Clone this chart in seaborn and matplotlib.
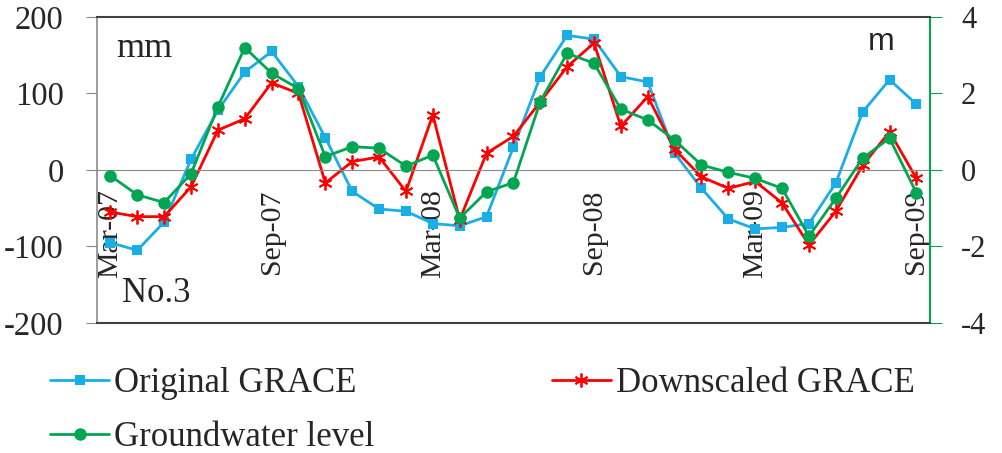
import numpy as np
import pandas as pd
import matplotlib
matplotlib.use("Agg")
import matplotlib.pyplot as plt
import seaborn as sns

# --- data (monthly, Mar-07 .. Sep-09) ---
months = ["Mar-07", "Apr-07", "May-07", "Jun-07", "Jul-07", "Aug-07", "Sep-07", "Oct-07",
          "Nov-07", "Dec-07", "Jan-08", "Feb-08", "Mar-08", "Apr-08", "May-08", "Jun-08",
          "Jul-08", "Aug-08", "Sep-08", "Oct-08", "Nov-08", "Dec-08", "Jan-09", "Feb-09",
          "Mar-09", "Apr-09", "May-09", "Jun-09", "Jul-09", "Aug-09", "Sep-09"]
original_grace = [-95, -105, -68, 14, 78, 128, 155, 109, 42, -28, -51, -54, -70, -73, -61, 30,
                  122, 176, 171, 122, 115, 22, -24, -64, -77, -75, -70, -17, 76, 118, 86]
downscaled_grace = [-55, -61, -61, -22, 52, 67, 114, 100, -17, 11, 17, -28, 72, -65, 22, 44,
                    89, 135, 166, 57, 96, 27, -9, -24, -15, -43, -98, -54, 6, 50, -11]
groundwater_m = [-0.15, -0.65, -0.85, -0.1, 1.65, 3.2, 2.53, 2.13, 0.35, 0.61, 0.57, 0.1, 0.39,
                 -1.26, -0.57, -0.33, 1.79, 3.05, 2.79, 1.59, 1.31, 0.78, 0.13, -0.06, -0.22,
                 -0.48, -1.73, -0.74, 0.31, 0.83, -0.6]

df = pd.DataFrame({"month": months, "orig": original_grace,
                   "down": downscaled_grace, "gw": groundwater_m})
df["pos"] = np.arange(len(df))

sns.set_style("white")
plt.rcParams["font.family"] = ["Liberation Serif", "DejaVu Serif"]
plt.rcParams["axes.unicode_minus"] = False

blue, red, green = "#1AAEE6", "#FF0000", "#00A651"

fig = plt.figure(figsize=(10.02, 4.53), dpi=100)
ax = fig.add_axes([0.0968, 0.287, 0.8312, 0.6755])
ax2 = ax.twinx()

sns.lineplot(data=df, x="pos", y="orig", ax=ax, color=blue, lw=2, marker="s",
             markersize=7.5, markeredgewidth=0, label="Original GRACE", legend=False)
sns.lineplot(data=df, x="pos", y="down", ax=ax, color=red, lw=2, marker=(6, 2, 0),
             markersize=10, markeredgecolor=red, markeredgewidth=1.3,
             label="Downscaled GRACE", legend=False)
sns.lineplot(data=df, x="pos", y="gw", ax=ax2, color=green, lw=2, marker="o",
             markersize=9, markeredgewidth=0, label="Groundwater level", legend=False)

n = len(df)
ax.set_xlim(-0.5, n - 0.5)
ax.set_ylim(-200, 200)
ax2.set_ylim(-4, 4)
ax.set_yticks([-200, -100, 0, 100, 200])
ax2.set_yticks([-4, -2, 0, 2, 4])

# category axis crossing at zero, tick marks between categories
ax.spines["bottom"].set_position(("data", 0))
ax.spines["bottom"].set_color("#8c8c8c")
ax.set_xticks(np.arange(-0.5, n, 6))
ax.set_xticklabels([])
ax.set_xticks(df["pos"][::6], minor=True)
ax.set_xticklabels(df["month"][::6], minor=True, rotation=90, va="top", ha="center",
                   fontsize=21.5)
ax.tick_params(axis="x", which="major", direction="out", length=6, color="#8c8c8c")
ax.tick_params(axis="x", which="minor", length=0, pad=14)
ax.tick_params(axis="y", direction="out", length=8, pad=16, color="#8c8c8c", labelsize=23.5)
ax2.tick_params(axis="y", direction="out", length=8.5, pad=14, color=green, labelsize=22)
ax.set_xlabel("")
ax.set_ylabel("")
ax2.set_ylabel("")

for s in ["top", "right"]:
    ax.spines[s].set_visible(False)
ax.spines["left"].set_color("#8c8c8c")
ax2.spines["left"].set_visible(False)
ax2.spines["top"].set_color("#404040")
ax2.spines["bottom"].set_color("#404040")
ax2.spines["right"].set_color(green)
for s in ax2.spines.values():
    s.set_linewidth(1.5)
ax.spines["left"].set_linewidth(1.2)

# unit and station labels, placed in figure pixels (origin bottom-left)
ax.text(116, 396, "mm", transform=None, fontsize=26, va="baseline")
ax.text(122, 151, "No.3", transform=None, fontsize=25, va="baseline")
ax.text(868, 403, "m", transform=None, fontsize=23, va="baseline",
        family=["Liberation Sans", "DejaVu Sans"])

h1, l1 = ax.get_legend_handles_labels()
h2, l2 = ax2.get_legend_handles_labels()
# row-major order as in the reference: Original, Downscaled / Groundwater
handles = [h1[0], h2[0], h1[1]]
labels = [l1[0], l2[0], l1[1]]
fig.legend(handles, labels, loc="upper left", bbox_to_anchor=(0.05, 0.19), ncol=2,
           frameon=False, fontsize=25, handlelength=1.7, handletextpad=0.15,
           columnspacing=5.1, labelspacing=0.62, borderaxespad=0, borderpad=0)

fig.savefig("out.png", dpi=100)
